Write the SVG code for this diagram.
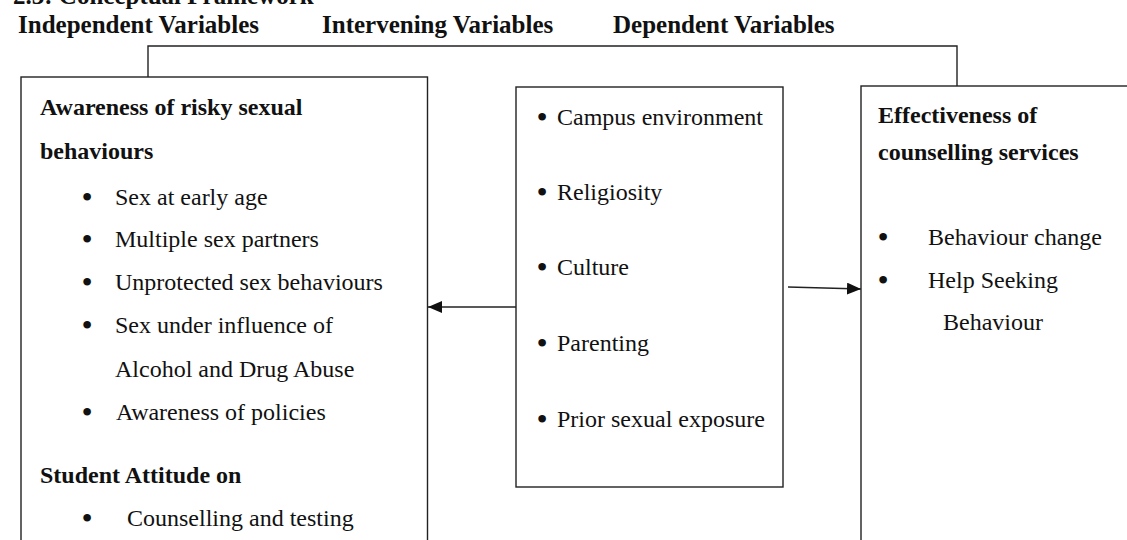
<svg xmlns="http://www.w3.org/2000/svg" width="1127" height="540" viewBox="0 0 1127 540">
<style>
text{font-family:"Liberation Serif","Times New Roman",serif;fill:#111;}
.h{font-size:25px;font-weight:bold;}
.b{font-size:24px;font-weight:bold;}
.t{font-size:24px;}
.bu{font-size:32px;text-anchor:middle;}
.box{fill:#fff;stroke:#222;stroke-width:1.4;}
.ln{fill:none;stroke:#222;stroke-width:1.4;}
</style>
<defs>
<marker id="ah" markerUnits="userSpaceOnUse" markerWidth="14" markerHeight="12" refX="14" refY="6" orient="auto">
<path d="M0,0 L14,6 L0,12 Z" fill="#111"/>
</marker>
</defs>
<g id="titles">
<text class="h" x="13" y="4">2.3: Conceptual Framework</text>
<text class="h" x="18" y="33">Independent Variables</text>
<text class="h" x="322" y="33">Intervening Variables</text>
<text class="h" x="613" y="33">Dependent Variables</text>
</g>
<g id="connectors">
<polyline class="ln" points="148,77 148,46 957,46 957,86"/>
<line class="ln" x1="516" y1="307" x2="428" y2="307" marker-end="url(#ah)"/>
<line class="ln" x1="788" y1="287" x2="861" y2="289" marker-end="url(#ah)"/>
</g>
<g id="independent">
<rect class="box" x="21" y="77" width="406.5" height="500"/>
<text class="b" x="40" y="115">Awareness of risky sexual</text>
<text class="b" x="40" y="159">behaviours</text>
<text class="bu" x="87" y="208">•</text><text class="t" x="115" y="205">Sex at early age</text>
<text class="bu" x="87" y="250">•</text><text class="t" x="115" y="247">Multiple sex partners</text>
<text class="bu" x="87" y="293">•</text><text class="t" x="115" y="290">Unprotected sex behaviours</text>
<text class="bu" x="87" y="336">•</text><text class="t" x="115" y="333">Sex under influence of</text>
<text class="t" x="115" y="377">Alcohol and Drug Abuse</text>
<text class="bu" x="87" y="423">•</text><text class="t" x="116" y="420">Awareness of policies</text>
<text class="b" x="40" y="483">Student Attitude on</text>
<text class="bu" x="87" y="529">•</text><text class="t" x="127" y="526">Counselling and testing</text>
</g>
<g id="intervening">
<rect class="box" x="516" y="87" width="267" height="400"/>
<text class="bu" x="542" y="128">•</text><text class="t" x="557" y="125">Campus environment</text>
<text class="bu" x="542" y="203">•</text><text class="t" x="557" y="200">Religiosity</text>
<text class="bu" x="542" y="278">•</text><text class="t" x="557" y="275">Culture</text>
<text class="bu" x="542" y="354">•</text><text class="t" x="557" y="351">Parenting</text>
<text class="bu" x="542" y="430">•</text><text class="t" x="557" y="427">Prior sexual exposure</text>
</g>
<g id="dependent">
<rect class="box" x="861" y="86" width="300" height="500"/>
<text class="b" x="878" y="123">Effectiveness of</text>
<text class="b" x="878" y="160">counselling services</text>
<text class="bu" x="883" y="248">•</text><text class="t" x="928" y="245">Behaviour change</text>
<text class="bu" x="883" y="291">•</text><text class="t" x="928" y="288">Help Seeking</text>
<text class="t" x="943" y="330">Behaviour</text>
</g>
</svg>
